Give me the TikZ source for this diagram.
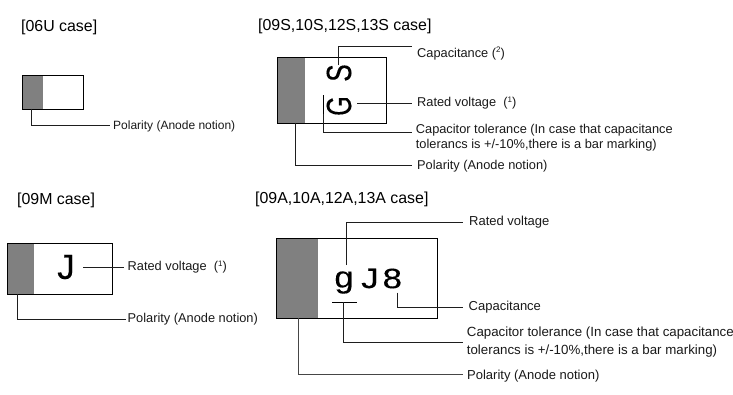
\documentclass[tikz,border=0pt]{standalone}
\usepackage{fontspec}
\setmainfont{Liberation Sans}
\newfontfamily\heavy[FakeBold=0.25]{Liberation Sans}
\newcommand{\px}[2]{\fontsize{#1}{#2}\selectfont}
\newcommand{\supnum}[1]{\raisebox{4.2pt}{\px{8}{9}#1}}
\tikzset{
  x=1pt,y=-1pt,
  chip/.style={draw=black,line width=1pt,inner sep=0pt,anchor=north west,fill=none},
  band/.style={fill=bandgray,draw=none,inner sep=0pt,anchor=north west},
  lead/.style={draw=leadblack,line width=0.8pt},
  grayled/.style={draw=leadgray,line width=0.9pt},
  head/.style={anchor=west,inner sep=0pt,font=\px{15.9}{18}},
  lab/.style={anchor=west,inner sep=0pt,font=\px{#1}{15},align=left,text=labelc},
  lab/.default=12.8,
  glyph/.style={inner sep=0pt,font=\heavy\px{#1}{#1}}
}
\definecolor{bandgray}{RGB}{128,128,128}
\definecolor{leadblack}{RGB}{30,30,30}
\definecolor{leadgray}{RGB}{70,70,70}
\definecolor{labelc}{RGB}{25,25,25}
\begin{document}
\begin{tikzpicture}
\useasboundingbox (0,0) rectangle (733,394);
% headings
\node[head] (h1) at (21,27) {[06U case]};
\node[head] (h2) at (258,26) {[09S,10S,12S,13S case]};
\node[head] (h3) at (17,200) {[09M case]};
\node[head] (h4) at (255,199) {[09A,10A,12A,13A case]};
% 06U
\node[band,minimum width=21.5pt,minimum height=34pt] (g1) at (21.5,74.5) {};
\node[chip,minimum width=61.5pt,minimum height=34pt] (c1) at (21.5,74.5) {};
\node[lab=12] (l1) at (113,126) {Polarity (Anode notion)};
\coordinate (p1) at (31,108.5);
\coordinate (e1) at (110,125);
\draw[lead] (p1) |- (e1);
% 09S
\node[band,minimum width=28.5pt,minimum height=66pt] (g2) at (276.7,56.7) {};
\node[chip,minimum width=109pt,minimum height=66pt] (c2) at (276.7,56.7) {};
\node[glyph=35,rotate=90,xscale=0.75] (mS) at (339,73) {S};
\node[glyph=35,rotate=90,xscale=0.72] (mG) at (339,106) {G};
\coordinate (bar2a) at (323.5,95);
\coordinate (bar2b) at (323.5,114);
\draw[draw=black,line width=1.3pt] (bar2a) -- (bar2b);
\node[lab] (l2a) at (417,53.5) {Capacitance (\supnum{2})};
\node[lab] (l2b) at (417,103) {Rated voltage\ \ (\supnum{1})};
\node[lab] (l2c) at (415.7,137.5) {Capacitor tolerance (In case that capacitance\\tolerancs is +/-10\%,there is a bar marking)};
\node[lab] (l2d) at (417,166) {Polarity (Anode notion)};
\coordinate (s2a) at (338,65); \coordinate (e2a) at (412,46);
\coordinate (s2b) at (357,103.5); \coordinate (e2b) at (412,103.5);
\coordinate (e2c) at (412,132.7);
\coordinate (s2d) at (295,122.7); \coordinate (e2d) at (412,165);
\draw[lead] (s2a) |- (e2a);
\draw[lead] (s2b) -- (e2b);
\draw[lead] (bar2b) |- (e2c);
\draw[lead] (s2d) |- (e2d);
% 09M
\node[band,minimum width=27pt,minimum height=51pt] (g3) at (7,243.3) {};
\node[chip,minimum width=104.7pt,minimum height=51pt] (c3) at (7,243.3) {};
\node[glyph=35] (mJ) at (66,267) {J};
\node[lab] (l3a) at (127.5,267) {Rated voltage\ \ (\supnum{1})};
\node[lab] (l3b) at (127.5,319.5) {Polarity (Anode notion)};
\coordinate (s3a) at (83,267); \coordinate (e3a) at (124,267);
\coordinate (s3b) at (17,294.3); \coordinate (e3b) at (126,319.3);
\draw[lead] (s3a) -- (e3a);
\draw[lead] (s3b) |- (e3b);
% 09A
\node[band,minimum width=41pt,minimum height=80pt] (g4) at (276.3,238.3) {};
\node[chip,minimum width=161pt,minimum height=80pt] (c4) at (276.3,238.3) {};
\node[glyph=30,xscale=1.15] (mg) at (344,282.5) {g};
\node[glyph=28,xscale=1.25] (mJJ) at (370,278.5) {J};
\node[glyph=28,xscale=1.25] (m8) at (392.3,278.5) {8};
\coordinate (bar4a) at (332.3,302.3);
\coordinate (bar4b) at (357,302.3);
\coordinate (bar4m) at (343.3,302.3);
\draw[draw=black,line width=1pt] (bar4a) -- (bar4b);
\node[lab=13] (l4a) at (469,222) {Rated voltage};
\node[lab=13] (l4b) at (468.5,307) {Capacitance};
\node[lab=13.3] (l4c) at (466.7,342.5) {Capacitor tolerance (In case that capacitance\\[3pt]tolerancs is +/-10\%,there is a bar marking)};
\node[lab=13] (l4d) at (467,376) {Polarity (Anode notion)};
\coordinate (s4a) at (346.3,265); \coordinate (e4a) at (463,222.3);
\coordinate (s4b) at (397,292.7); \coordinate (e4b) at (463,307.3);
\coordinate (e4c) at (463,342.3);
\coordinate (s4d) at (298.3,318.3); \coordinate (e4d) at (463,374);
\draw[lead] (s4a) |- (e4a);
\draw[lead] (s4b) |- (e4b);
\draw[lead] (bar4m) |- (e4c);
\draw[grayled] (s4d) |- (e4d);
\end{tikzpicture}
\end{document}
